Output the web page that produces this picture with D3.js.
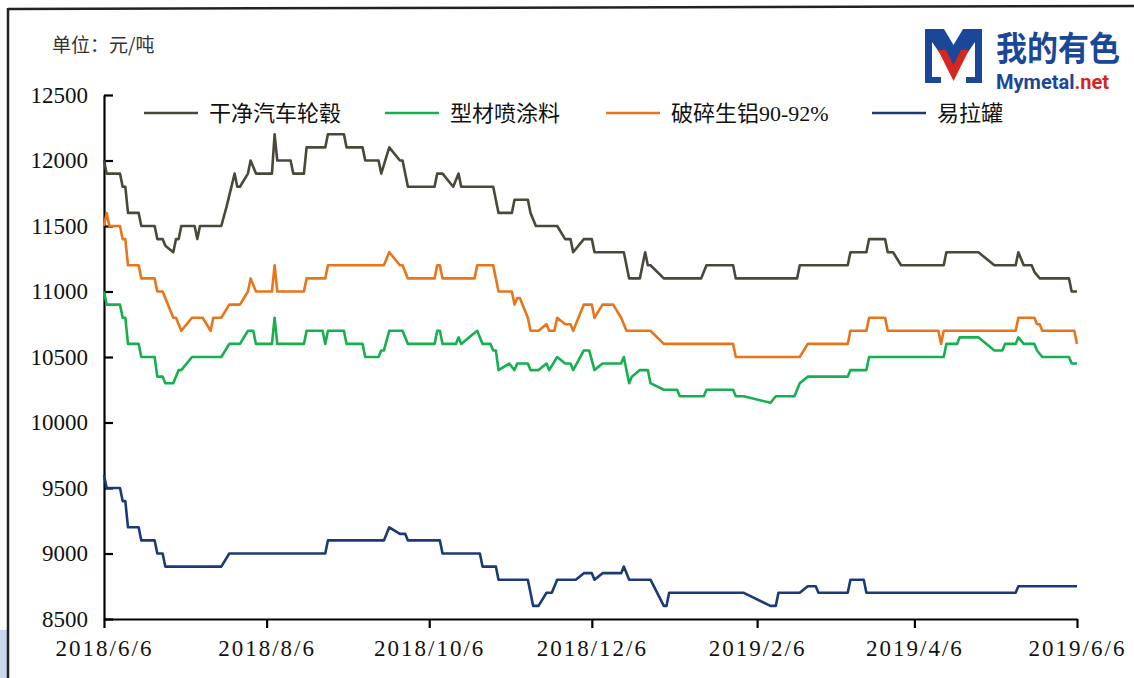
<!DOCTYPE html>
<html>
<head>
<meta charset="utf-8">
<script src="https://cdn.jsdelivr.net/npm/d3@7"></script>
<style>
body { margin: 0; background: #fff; }
svg { display: block; }
.axis text { font-family: "Liberation Serif", "Times New Roman", serif; font-size: 23px; fill: #111; }
.axis path, .axis line { stroke: #000; stroke-width: 2.2px; }
.x-axis text { letter-spacing: 2px; }
.legend text { font-family: "Liberation Serif", "Noto Sans CJK SC", serif; font-size: 22px; fill: #111; }
</style>
</head>
<body>
<svg width="1134" height="678"></svg>
<script>
// 干净汽车轮毂
var hub = [
    ["2018-06-06",12000],["2018-06-07",11900],["2018-06-12",11900],["2018-06-13",11800],["2018-06-14",11800],
    ["2018-06-15",11600],["2018-06-19",11600],["2018-06-20",11500],["2018-06-25",11500],["2018-06-26",11400],
    ["2018-06-28",11400],["2018-06-29",11350],["2018-07-02",11300],["2018-07-03",11400],["2018-07-04",11400],
    ["2018-07-05",11500],["2018-07-10",11500],["2018-07-11",11400],["2018-07-12",11500],["2018-07-20",11500],
    ["2018-07-22",11650],["2018-07-25",11900],["2018-07-26",11800],["2018-07-27",11800],["2018-07-30",11900],
    ["2018-07-31",12000],["2018-08-02",11900],["2018-08-08",11900],["2018-08-09",12200],["2018-08-10",12000],
    ["2018-08-15",12000],["2018-08-16",11900],["2018-08-20",11900],["2018-08-21",12100],["2018-08-28",12100],
    ["2018-08-29",12200],["2018-09-04",12200],["2018-09-05",12100],["2018-09-11",12100],["2018-09-12",12000],
    ["2018-09-17",12000],["2018-09-18",11900],["2018-09-21",12100],["2018-09-25",12000],["2018-09-26",12000],
    ["2018-09-28",11800],["2018-10-08",11800],["2018-10-09",11900],["2018-10-11",11900],["2018-10-15",11800],
    ["2018-10-17",11900],["2018-10-18",11800],["2018-10-30",11800],["2018-11-01",11600],["2018-11-06",11600],
    ["2018-11-07",11700],["2018-11-12",11700],["2018-11-13",11600],["2018-11-15",11500],["2018-11-23",11500],
    ["2018-11-26",11400],["2018-11-28",11400],["2018-11-29",11300],["2018-12-03",11400],["2018-12-06",11400],
    ["2018-12-07",11300],["2018-12-18",11300],["2018-12-20",11100],["2018-12-24",11100],["2018-12-26",11300],
    ["2018-12-27",11200],["2018-12-28",11200],["2019-01-02",11100],["2019-01-16",11100],["2019-01-18",11200],
    ["2019-01-28",11200],["2019-01-29",11100],["2019-02-21",11100],["2019-02-22",11200],["2019-03-12",11200],
    ["2019-03-13",11300],["2019-03-19",11300],["2019-03-20",11400],["2019-03-26",11400],["2019-03-27",11300],
    ["2019-03-29",11300],["2019-04-01",11200],["2019-04-17",11200],["2019-04-18",11300],["2019-04-30",11300],
    ["2019-05-06",11200],["2019-05-14",11200],["2019-05-15",11300],["2019-05-17",11200],["2019-05-20",11200],
    ["2019-05-21",11150],["2019-05-23",11100],["2019-06-03",11100],["2019-06-04",11000],["2019-06-06",11000]
];

// 型材喷涂料
var spray = [
    ["2018-06-06",11000],["2018-06-07",10900],["2018-06-12",10900],["2018-06-13",10800],["2018-06-14",10800],
    ["2018-06-15",10600],["2018-06-19",10600],["2018-06-20",10500],["2018-06-25",10500],["2018-06-26",10350],
    ["2018-06-28",10350],["2018-06-29",10300],["2018-07-02",10300],["2018-07-04",10400],["2018-07-05",10400],
    ["2018-07-09",10500],["2018-07-20",10500],["2018-07-23",10600],["2018-07-27",10600],["2018-07-30",10700],
    ["2018-08-01",10700],["2018-08-02",10600],["2018-08-08",10600],["2018-08-09",10800],["2018-08-10",10600],
    ["2018-08-20",10600],["2018-08-21",10700],["2018-08-27",10700],["2018-08-28",10600],["2018-08-29",10700],
    ["2018-09-04",10700],["2018-09-05",10600],["2018-09-11",10600],["2018-09-12",10500],["2018-09-17",10500],
    ["2018-09-18",10550],["2018-09-19",10550],["2018-09-21",10700],["2018-09-26",10700],["2018-09-28",10600],
    ["2018-10-08",10600],["2018-10-09",10700],["2018-10-10",10700],["2018-10-11",10600],["2018-10-16",10600],
    ["2018-10-17",10650],["2018-10-18",10600],["2018-10-21",10650],["2018-10-24",10700],["2018-10-26",10600],
    ["2018-10-29",10600],["2018-10-30",10550],["2018-10-31",10550],["2018-11-01",10400],["2018-11-05",10450],
    ["2018-11-07",10400],["2018-11-08",10450],["2018-11-12",10450],["2018-11-13",10400],["2018-11-16",10400],
    ["2018-11-19",10450],["2018-11-20",10400],["2018-11-23",10500],["2018-11-26",10450],["2018-11-28",10450],
    ["2018-11-29",10400],["2018-12-03",10550],["2018-12-05",10550],["2018-12-07",10400],["2018-12-10",10450],
    ["2018-12-17",10450],["2018-12-18",10500],["2018-12-20",10300],["2018-12-21",10350],["2018-12-24",10400],
    ["2018-12-27",10400],["2018-12-28",10300],["2019-01-02",10250],["2019-01-07",10250],["2019-01-08",10200],
    ["2019-01-17",10200],["2019-01-18",10250],["2019-01-28",10250],["2019-01-29",10200],["2019-02-01",10200],
    ["2019-02-11",10150],["2019-02-13",10200],["2019-02-20",10200],["2019-02-22",10300],["2019-02-25",10350],
    ["2019-03-12",10350],["2019-03-13",10400],["2019-03-19",10400],["2019-03-20",10500],["2019-04-17",10500],
    ["2019-04-18",10600],["2019-04-22",10600],["2019-04-23",10650],["2019-04-30",10650],["2019-05-06",10550],
    ["2019-05-09",10550],["2019-05-10",10600],["2019-05-14",10600],["2019-05-15",10650],["2019-05-17",10600],
    ["2019-05-21",10600],["2019-05-22",10550],["2019-05-24",10500],["2019-06-03",10500],["2019-06-04",10450],
    ["2019-06-06",10450]
];

// 破碎生铝90-92%
var scrap = [
    ["2018-06-06",11500],["2018-06-07",11600],["2018-06-08",11500],["2018-06-12",11500],["2018-06-13",11400],
    ["2018-06-14",11400],["2018-06-15",11200],["2018-06-19",11200],["2018-06-20",11100],["2018-06-25",11100],
    ["2018-06-26",11000],["2018-06-28",11000],["2018-07-02",10800],["2018-07-03",10800],["2018-07-05",10700],
    ["2018-07-09",10800],["2018-07-13",10800],["2018-07-16",10700],["2018-07-17",10800],["2018-07-20",10800],
    ["2018-07-23",10900],["2018-07-27",10900],["2018-07-30",11000],["2018-07-31",11100],["2018-08-02",11000],
    ["2018-08-08",11000],["2018-08-09",11200],["2018-08-10",11000],["2018-08-20",11000],["2018-08-21",11100],
    ["2018-08-28",11100],["2018-08-29",11200],["2018-09-19",11200],["2018-09-21",11300],["2018-09-25",11200],
    ["2018-09-26",11200],["2018-09-28",11100],["2018-10-08",11100],["2018-10-09",11200],["2018-10-10",11200],
    ["2018-10-11",11100],["2018-10-23",11100],["2018-10-24",11200],["2018-10-30",11200],["2018-11-01",11000],
    ["2018-11-06",11000],["2018-11-07",10900],["2018-11-08",10950],["2018-11-09",10950],["2018-11-12",10800],
    ["2018-11-13",10700],["2018-11-16",10700],["2018-11-19",10750],["2018-11-20",10700],["2018-11-22",10700],
    ["2018-11-23",10800],["2018-11-26",10750],["2018-11-28",10750],["2018-11-29",10700],["2018-12-03",10900],
    ["2018-12-06",10900],["2018-12-07",10800],["2018-12-10",10900],["2018-12-14",10900],["2018-12-17",10800],
    ["2018-12-19",10700],["2018-12-28",10700],["2019-01-02",10600],["2019-01-28",10600],["2019-01-29",10500],
    ["2019-02-22",10500],["2019-02-25",10600],["2019-03-12",10600],["2019-03-13",10700],["2019-03-19",10700],
    ["2019-03-20",10800],["2019-03-26",10800],["2019-03-27",10700],["2019-04-15",10700],["2019-04-16",10600],
    ["2019-04-17",10700],["2019-05-14",10700],["2019-05-15",10800],["2019-05-21",10800],["2019-05-22",10750],
    ["2019-05-23",10750],["2019-05-24",10700],["2019-06-05",10700],["2019-06-06",10600]
];

// 易拉罐
var cans = [
    ["2018-06-06",9600],["2018-06-07",9500],["2018-06-12",9500],["2018-06-13",9400],["2018-06-14",9400],
    ["2018-06-15",9200],["2018-06-19",9200],["2018-06-20",9100],["2018-06-25",9100],["2018-06-26",9000],
    ["2018-06-28",9000],["2018-06-29",8900],["2018-07-20",8900],["2018-07-23",9000],["2018-08-28",9000],
    ["2018-08-29",9100],["2018-09-19",9100],["2018-09-21",9200],["2018-09-25",9150],["2018-09-27",9150],
    ["2018-09-28",9100],["2018-10-10",9100],["2018-10-11",9000],["2018-10-25",9000],["2018-10-26",8900],
    ["2018-10-31",8900],["2018-11-01",8800],["2018-11-12",8800],["2018-11-14",8600],["2018-11-16",8600],
    ["2018-11-19",8700],["2018-11-21",8700],["2018-11-23",8800],["2018-11-30",8800],["2018-12-03",8850],
    ["2018-12-06",8850],["2018-12-07",8800],["2018-12-10",8850],["2018-12-17",8850],["2018-12-18",8900],
    ["2018-12-20",8800],["2018-12-28",8800],["2019-01-02",8600],["2019-01-03",8600],["2019-01-04",8700],
    ["2019-02-01",8700],["2019-02-11",8600],["2019-02-13",8600],["2019-02-14",8700],["2019-02-22",8700],
    ["2019-02-25",8750],["2019-02-28",8750],["2019-03-01",8700],["2019-03-12",8700],["2019-03-13",8800],
    ["2019-03-18",8800],["2019-03-19",8700],["2019-05-14",8700],["2019-05-15",8750],["2019-06-06",8750]
];

var seriesNames = ["干净汽车轮毂", "型材喷涂料", "破碎生铝90-92%", "易拉罐"];
var seriesColors = ["#4a4838", "#16b04f", "#e8751a", "#1b3a78"];
var yTicks = [8500, 9000, 9500, 10000, 10500, 11000, 11500, 12000, 12500];
var xTicks = ["2018-06-06", "2018-08-06", "2018-10-06", "2018-12-06", "2019-02-06", "2019-04-06", "2019-06-06"];

var svg = d3.select("svg"),
    margin = {top: 95, right: 57, bottom: 59, left: 104},
    width = +svg.attr("width") - margin.left - margin.right,
    height = +svg.attr("height") - margin.top - margin.bottom;

var parseTime = d3.timeParse("%Y-%m-%d");

// page frame
svg.append("rect").attr("x", 0).attr("y", 630).attr("width", 7).attr("height", 48).attr("fill", "#c9d8ef");
svg.append("line").attr("x1", 8).attr("y1", 9).attr("x2", 1134).attr("y2", 6)
    .attr("stroke", "#222").attr("stroke-width", 2.5);
svg.append("line").attr("x1", 8).attr("y1", 8).attr("x2", 8).attr("y2", 678)
    .attr("stroke", "#222").attr("stroke-width", 2.5);

// unit label
svg.append("text")
    .attr("x", 52).attr("y", 52)
    .style("font-family", "'Noto Sans CJK SC', sans-serif")
    .style("font-size", "19px")
    .attr("fill", "#333")
    .text("单位：元/吨");

// logo
var logo = svg.append("g").attr("class", "logo");
logo.append("path")
    .attr("d", "M925,29H944L953.5,45L963,29H982V83H966V77H975V42L953.5,73L932,42V77H941V83H925Z")
    .attr("fill", "#1a4797");
logo.append("path")
    .attr("d", "M938,50H946L953.5,65L961,50H969L953.5,81Z")
    .attr("fill", "#d7261e");
logo.append("text")
    .attr("transform", "translate(996,61) scale(1,1.1)")
    .style("font-family", "'Noto Sans CJK SC', sans-serif")
    .style("font-size", "31px").style("font-weight", "bold")
    .attr("fill", "#1a4797")
    .text("我的有色");
var site = logo.append("text")
    .attr("x", 996).attr("y", 89)
    .style("font-family", "Roboto, 'Open Sans', sans-serif")
    .style("font-size", "20px").style("font-weight", "bold");
site.append("tspan").attr("fill", "#1a4797").text("Mymetal");
site.append("tspan").attr("fill", "#d7261e").text(".net");

var g = svg.append("g").attr("transform", "translate(" + margin.left + "," + margin.top + ")");

var x = d3.scaleTime()
    .domain([parseTime(xTicks[0]), parseTime(xTicks[xTicks.length - 1])])
    .range([0, width]);
var y = d3.scaleLinear()
    .domain([yTicks[0], yTicks[yTicks.length - 1]])
    .range([height, 0]);

var line = d3.line()
    .x(function(d) { return x(d.date); })
    .y(function(d) { return y(d.value); });

// Add X-Axis
g.append("g")
    .attr("class", "axis x-axis")
    .attr("transform", "translate(0," + height + ")")
    .call(d3.axisBottom(x)
        .tickValues(xTicks.map(parseTime))
        .tickFormat(d3.timeFormat("%Y/%-m/%-d"))
        .tickSizeInner(9)
        .tickSizeOuter(0)
        .tickPadding(12));

// Add Y-Axis (ticks point inward)
g.append("g")
    .attr("class", "axis y-axis")
    .call(d3.axisLeft(y)
        .tickValues(yTicks)
        .tickFormat(d3.format("d"))
        .tickSizeInner(-9)
        .tickSizeOuter(0)
        .tickPadding(16));

// Lines
var people = [hub, spray, scrap, cans].map(function(rows, i) {
    return {
        id: seriesNames[i],
        color: seriesColors[i],
        values: rows.map(function(r) { return {date: parseTime(r[0]), value: r[1]}; })
    };
});

g.selectAll(".series")
    .data(people)
    .enter().append("path")
    .attr("class", "series")
    .attr("fill", "none")
    .attr("stroke", function(d) { return d.color; })
    .attr("stroke-width", 2.6)
    .attr("stroke-linejoin", "round")
    .attr("d", function(d) { return line(d.values); });

// Legend
var legendX = [144, 385, 606, 872];
var legend = svg.append("g").attr("class", "legend")
    .selectAll("g")
    .data(people)
    .enter().append("g")
    .attr("transform", function(d, i) { return "translate(" + legendX[i] + ",113)"; });

legend.append("line")
    .attr("x1", 0).attr("x2", 54)
    .attr("stroke", function(d) { return d.color; })
    .attr("stroke-width", 2.6);

legend.append("text")
    .attr("x", 65)
    .attr("dy", "0.36em")
    .text(function(d) { return d.id; });
</script>
</body>
</html>
